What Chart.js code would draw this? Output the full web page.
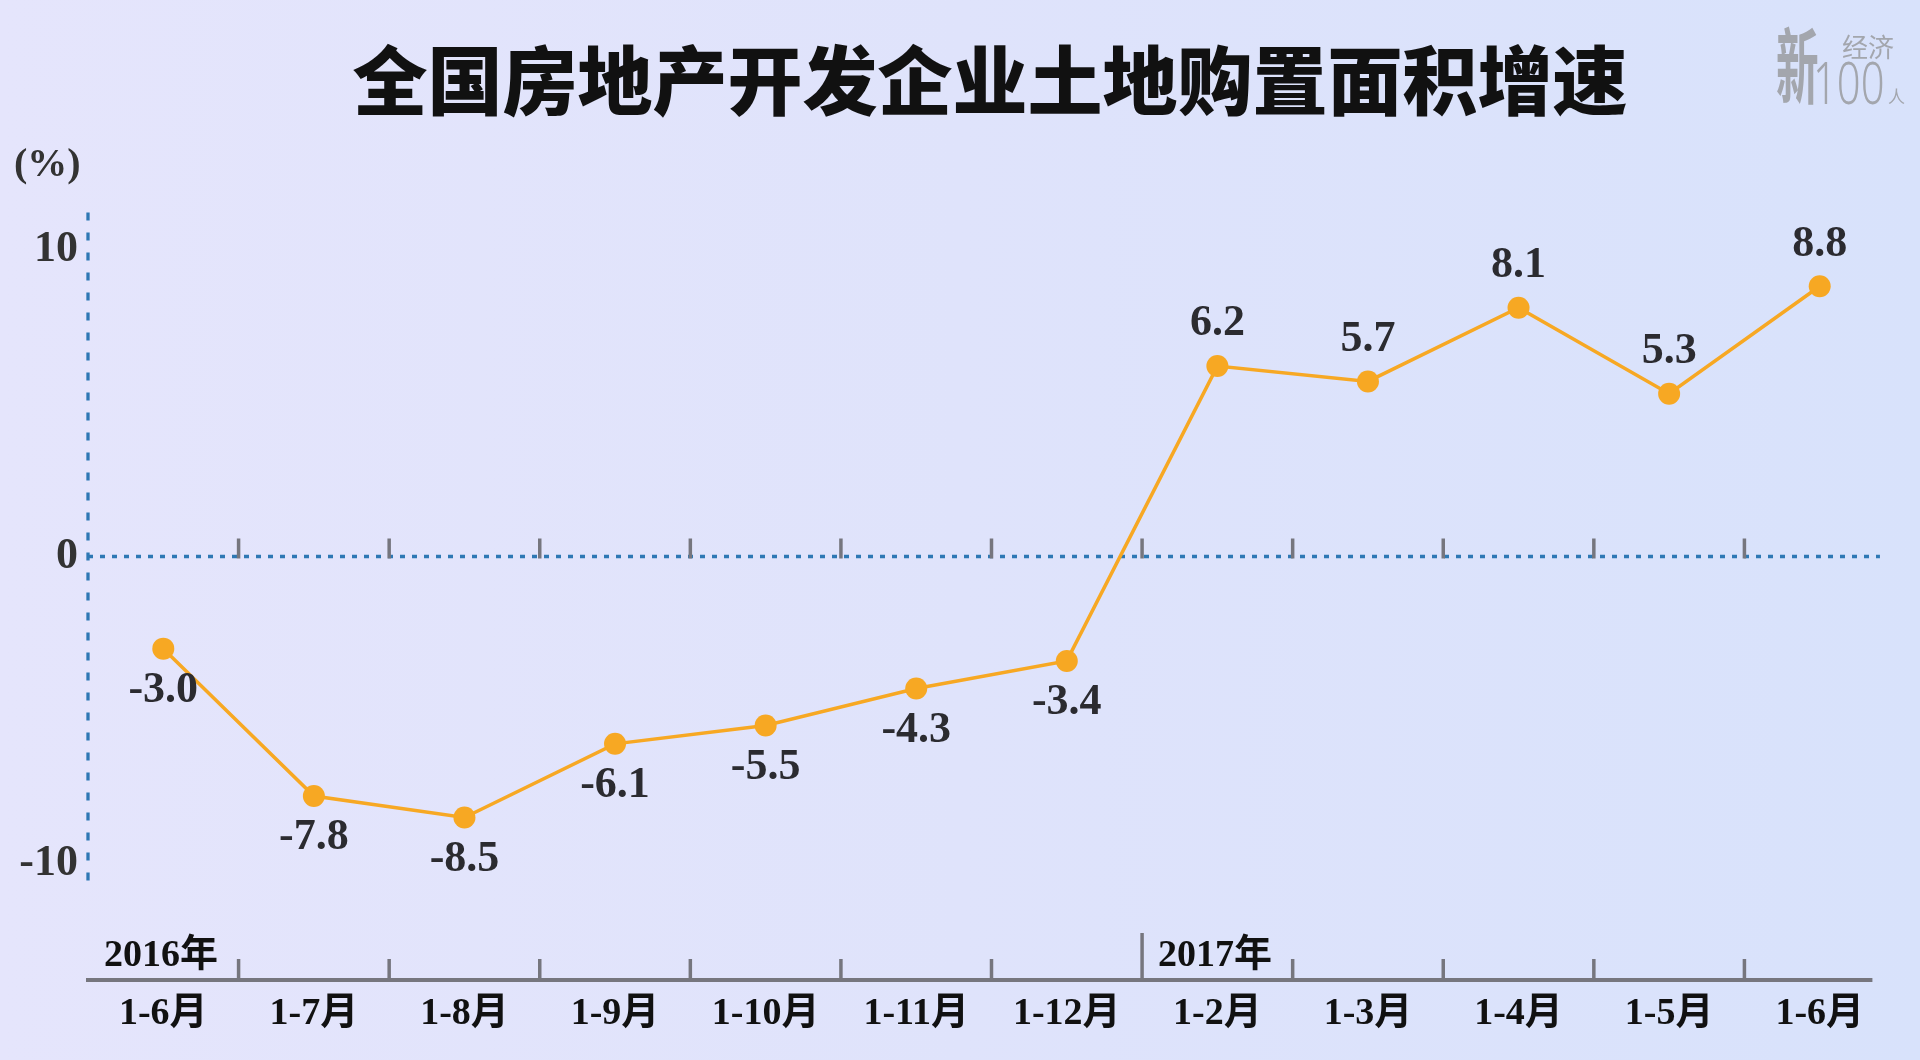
<!DOCTYPE html>
<html lang="zh-CN">
<head>
<meta charset="utf-8">
<title>全国房地产开发企业土地购置面积增速</title>
<script src="https://cdn.jsdelivr.net/npm/chart.js@4.4.0/dist/chart.umd.min.js"></script>
<style>
    html, body { margin: 0; padding: 0; }
    body {
        width: 1920px; height: 1060px; overflow: hidden;
        background: linear-gradient(to right, #e5e5fc 0%, #dfe3fb 50%, #d8e2fb 100%);
    }
    #wrap { position: relative; width: 1920px; height: 1060px; }
</style>
</head>
<body>
<div id="wrap"><canvas id="landChart"></canvas></div>
<script>
// 数据
const categories = ['1-6月', '1-7月', '1-8月', '1-9月', '1-10月', '1-11月', '1-12月', '1-2月', '1-3月', '1-4月', '1-5月', '1-6月'];
const growth = [-3.0, -7.8, -8.5, -6.1, -5.5, -4.3, -3.4, 6.2, 5.7, 8.1, 5.3, 8.8];
const yTicks = [10, 0, -10];
const yearNames = ['2016年', '2017年'];
const yearStarts = [0, 7];

// 坐标轴范围
const yMin = -13.79, yMax = 11.25;
const yAxisTop = 11.2, yAxisBottom = -10.6;

const SERIF = '"Liberation Serif", "Noto Sans CJK SC", serif';
const LINE_ORANGE = '#f7a823';
const DOT_BLUE = '#2e78b4';
const AXIS_GRAY = '#76767e';

function boundaryX(x, i) {
    return (x.getPixelForValue(i - 1) + x.getPixelForValue(i)) / 2;
}

const decorPlugin = {
    id: 'decor',
    beforeDatasetsDraw(chart) {
        const { ctx, chartArea, scales: { x, y } } = chart;
        const step = x.getPixelForValue(1) - x.getPixelForValue(0);
        const last = x.getPixelForValue(categories.length - 1);
        const zeroY = y.getPixelForValue(0);
        const baseY = chartArea.bottom;
        ctx.save();

        // 纵轴虚线
        ctx.strokeStyle = DOT_BLUE;
        ctx.lineWidth = 3.3;
        ctx.setLineDash([8, 12]);
        ctx.beginPath();
        ctx.moveTo(chartArea.left, y.getPixelForValue(yAxisTop));
        ctx.lineTo(chartArea.left, y.getPixelForValue(yAxisBottom));
        ctx.stroke();

        // 零线
        ctx.setLineDash([5, 7]);
        ctx.beginPath();
        ctx.moveTo(chartArea.left, zeroY);
        ctx.lineTo(last + step * 0.4, zeroY);
        ctx.stroke();
        ctx.setLineDash([]);

        // 底部横轴
        ctx.strokeStyle = AXIS_GRAY;
        ctx.lineWidth = 4;
        ctx.beginPath();
        ctx.moveTo(chartArea.left - 2, baseY);
        ctx.lineTo(last + step * 0.35, baseY);
        ctx.stroke();

        ctx.lineWidth = 3.5;
        for (let i = 1; i < categories.length; i++) {
            const bx = boundaryX(x, i);
            const tall = yearStarts.includes(i);
            ctx.beginPath();
            ctx.moveTo(bx, zeroY + 2);
            ctx.lineTo(bx, zeroY - 18);
            ctx.stroke();
            ctx.beginPath();
            ctx.moveTo(bx, baseY);
            ctx.lineTo(bx, baseY - (tall ? 47 : 21));
            ctx.stroke();
        }

        // 年份
        ctx.fillStyle = '#111';
        ctx.font = 'bold 38px ' + SERIF;
        ctx.textAlign = 'left';
        ctx.textBaseline = 'middle';
        yearStarts.forEach((s, k) => {
            const sx = s === 0 ? chartArea.left : boundaryX(x, s);
            ctx.fillText(yearNames[k], sx + 16, baseY - 24);
        });
        ctx.restore();
    },
    afterDatasetsDraw(chart) {
        const { ctx } = chart;
        const meta = chart.getDatasetMeta(0);
        ctx.save();
        ctx.fillStyle = '#2b2b30';
        ctx.font = 'bold 44px ' + SERIF;
        ctx.textAlign = 'center';
        ctx.textBaseline = 'middle';
        meta.data.forEach((pt, i) => {
            const v = growth[i];
            const ty = v >= 0 ? pt.y - 42 : pt.y + 42;
            ctx.fillText(v.toFixed(1), pt.x, ty);
        });
        ctx.restore();
    },
    afterDraw(chart) {
        const { ctx } = chart;
        ctx.save();
        // 标题
        ctx.fillStyle = '#111';
        ctx.font = '900 75px "Noto Sans CJK SC"';
        ctx.textAlign = 'center';
        ctx.textBaseline = 'middle';
        ctx.fillText('全国房地产开发企业土地购置面积增速', 990, 80);

        // 单位
        ctx.fillStyle = '#333';
        ctx.font = 'bold 40px ' + SERIF;
        ctx.textAlign = 'left';
        ctx.fillText('(%)', 14, 166);

        // 标志
        ctx.fillStyle = '#a3a6ad';
        ctx.textBaseline = 'alphabetic';
        ctx.save();
        ctx.translate(1776, 97);
        ctx.scale(0.52, 1);
        ctx.font = '700 82px "Noto Sans CJK SC"';
        ctx.fillText('新', 0, 0);
        ctx.restore();
        ctx.font = '400 26px "Noto Sans CJK SC"';
        ctx.fillText('经济', 1842, 57);
        ctx.save();
        ctx.translate(1813, 104);
        ctx.scale(0.72, 1);
        ctx.font = '300 58px "Noto Sans"';
        ctx.fillText('100', 0, 0);
        ctx.restore();
        ctx.font = '400 17px "Noto Sans CJK SC"';
        ctx.fillText('人', 1888, 103);
        ctx.restore();
    }
};

new Chart(document.getElementById('landChart'), {
    type: 'line',
    data: {
        labels: categories,
        datasets: [{
            data: growth,
            borderColor: LINE_ORANGE,
            borderWidth: 3.5,
            pointRadius: 11,
            pointHoverRadius: 11,
            pointBackgroundColor: LINE_ORANGE,
            pointBorderWidth: 0,
            tension: 0,
            clip: false
        }]
    },
    options: {
        responsive: true,
        maintainAspectRatio: false,
        animation: false,
        layout: { padding: { top: 211, right: 25, bottom: 0, left: 0 } },
        plugins: {
            legend: { display: false },
            title: { display: false },
            tooltip: { enabled: false }
        },
        scales: {
            x: {
                type: 'category',
                offset: true,
                grid: { display: false, drawTicks: false },
                border: { display: false },
                ticks: {
                    autoSkip: false,
                    maxRotation: 0,
                    padding: 11,
                    color: '#111',
                    font: { family: SERIF, size: 38, weight: 'bold' }
                },
                afterFit(s) { s.height = 80; }
            },
            y: {
                min: yMin,
                max: yMax,
                grid: { display: false, drawTicks: false },
                border: { display: false },
                afterBuildTicks(s) { s.ticks = yTicks.map(v => ({ value: v })); },
                ticks: {
                    padding: 10,
                    color: '#333',
                    font: { family: SERIF, size: 44, weight: 'bold' },
                    callback: v => String(v)
                },
                afterFit(s) { s.width = 88; }
            }
        }
    },
    plugins: [decorPlugin]
});
</script>
</body>
</html>
